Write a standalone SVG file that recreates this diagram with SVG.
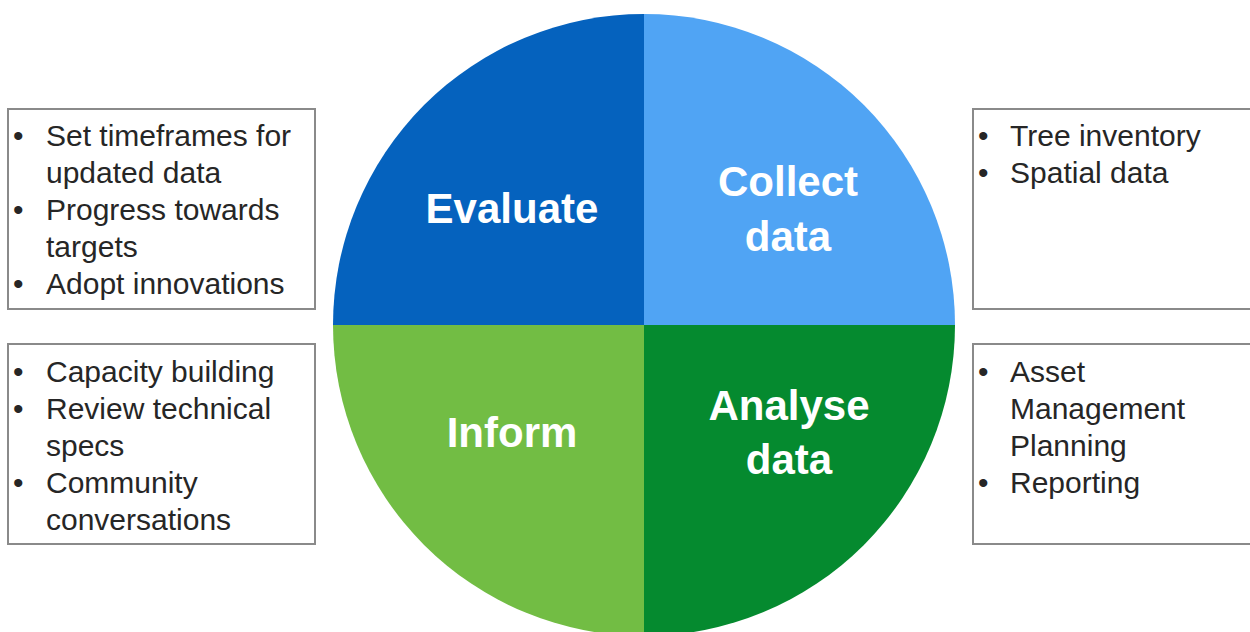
<svg xmlns="http://www.w3.org/2000/svg" width="1250" height="632" viewBox="0 0 1250 632">
  <style>
    .box { fill: #ffffff; stroke: #8a8a8a; stroke-width: 2; }
    .item { font-family: "Liberation Sans", Arial, sans-serif; font-size: 30px; fill: #262626; }
    .label { font-family: "Liberation Sans", Arial, sans-serif; font-size: 42px; font-weight: bold; fill: #ffffff; text-anchor: middle; }
  </style>
  <rect width="1250" height="632" fill="#ffffff"/>

  <!-- Cycle wheel: four quadrants -->
  <g id="wheel">
    <g id="evaluate">
      <path d="M644,325 L333,325 A311,311 0 0 1 644,14 Z" fill="#0562BE"/>
      <text class="label" x="512" y="223">Evaluate</text>
    </g>
    <g id="collect">
      <path d="M644,325 L644,14 A311,311 0 0 1 955,325 Z" fill="#50A4F4"/>
      <text class="label" x="788" y="196">Collect</text>
      <text class="label" x="788" y="251">data</text>
    </g>
    <g id="inform">
      <path d="M644,325 L644,636 A311,311 0 0 1 333,325 Z" fill="#72BD44"/>
      <text class="label" x="512" y="447">Inform</text>
    </g>
    <g id="analyse">
      <path d="M644,325 L955,325 A311,311 0 0 1 644,636 Z" fill="#058A2F"/>
      <text class="label" x="789" y="420">Analyse</text>
      <text class="label" x="789" y="474">data</text>
    </g>
  </g>

  <!-- Activity lists -->
  <g id="evaluate-list">
    <rect class="box" x="8" y="109" width="307" height="200"/>
    <text class="item" x="13" y="146">•</text>
    <text class="item" x="46" y="146">Set timeframes for</text>
    <text class="item" x="46" y="183">updated data</text>
    <text class="item" x="13" y="220">•</text>
    <text class="item" x="46" y="220">Progress towards</text>
    <text class="item" x="46" y="257">targets</text>
    <text class="item" x="13" y="294">•</text>
    <text class="item" x="46" y="294">Adopt innovations</text>
  </g>

  <g id="inform-list">
    <rect class="box" x="8" y="344" width="307" height="200"/>
    <text class="item" x="13" y="382">•</text>
    <text class="item" x="46" y="382">Capacity building</text>
    <text class="item" x="13" y="419">•</text>
    <text class="item" x="46" y="419">Review technical</text>
    <text class="item" x="46" y="456">specs</text>
    <text class="item" x="13" y="493">•</text>
    <text class="item" x="46" y="493">Community</text>
    <text class="item" x="46" y="530">conversations</text>
  </g>

  <g id="collect-list">
    <rect class="box" x="973" y="109" width="290" height="200"/>
    <text class="item" x="978" y="146">•</text>
    <text class="item" x="1010" y="146">Tree inventory</text>
    <text class="item" x="978" y="183">•</text>
    <text class="item" x="1010" y="183">Spatial data</text>
  </g>

  <g id="analyse-list">
    <rect class="box" x="973" y="344" width="290" height="200"/>
    <text class="item" x="978" y="382">•</text>
    <text class="item" x="1010" y="382">Asset</text>
    <text class="item" x="1010" y="419">Management</text>
    <text class="item" x="1010" y="456">Planning</text>
    <text class="item" x="978" y="493">•</text>
    <text class="item" x="1010" y="493">Reporting</text>
  </g>
</svg>
